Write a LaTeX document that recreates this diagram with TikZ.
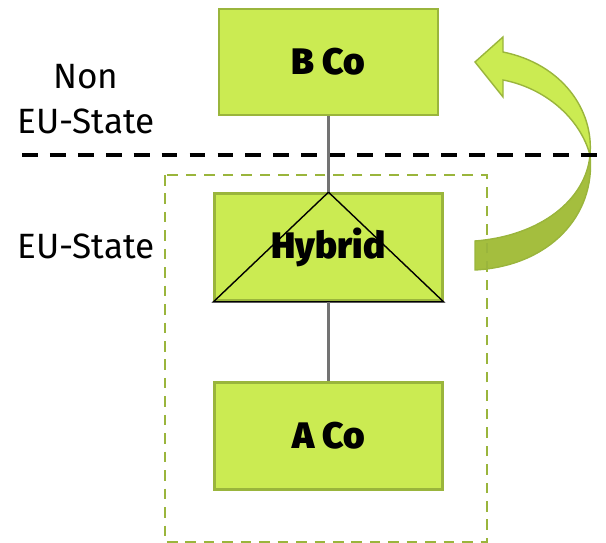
\documentclass[tikz,border=0pt]{standalone}
\usepackage{fontspec}
\setmainfont{Fira Sans}
\newfontfamily\heavyfont{Fira Sans Black}
\usetikzlibrary{positioning}
\definecolor{lime}{HTML}{CBEB52}
\definecolor{olive}{HTML}{9AB53C}
\definecolor{darklime}{HTML}{A4BE3E}
\tikzset{box/.style={rectangle,draw=olive,line width=1.5pt,fill=lime,minimum width=4.55cm,minimum height=2.14cm,font=\fontsize{21}{24}\selectfont\heavyfont}}
\tikzset{lbl/.style={font=\fontsize{20}{25.6}\selectfont,align=center,inner sep=0pt}}
\tikzset{link/.style={draw=black!55,line width=1.7pt}}

\begin{document}
\begin{tikzpicture}[x=0.02cm,y=-0.02cm]
\useasboundingbox (0,0) rectangle (606,543);
% curved arrow
\fill[draw=olive,fill=darklime,line width=0.8pt] (590,155) .. controls (596,215) and (550,266) .. (475,270) -- (475,241) .. controls (540,236) and (586,200) .. (590,155) -- cycle;
\fill[draw=olive,fill=lime,line width=0.8pt] (475,62) -- (503,37) -- (503,52) .. controls (562,64) and (594,110) .. (590,155) .. controls (580,118) and (545,88) .. (503,80) -- (503,97) -- cycle;
% regions
\draw[olive,line width=1.2pt,dash pattern=on 6pt off 4.5pt] (165,175) rectangle (487,542);
\draw[black,line width=2.5pt,dash pattern=on 9pt off 6.9pt] (22,155) -- (598,155);
\node[lbl] (non) at (86,99) {Non\\EU-State};
\node[lbl] (eu) at (86,246) {EU-State};
% companies
\node[box,minimum width=4.38cm,minimum height=2.12cm] (bco) at (328.5,62) {B Co};
\node[box] (hybrid) at (328.5,247) {};
\node[box] (aco) at (328.5,436) {A Co};
\draw[black,line width=0.8pt] (hybrid.south west) -- (hybrid.north) -- (hybrid.south east) -- cycle;
\node[font=\fontsize{21}{24}\selectfont\heavyfont] (hy) at (hybrid) {Hybrid};
\draw[link] (bco) -- (hybrid);
\draw[link] (hybrid) -- (aco);
\end{tikzpicture}
\end{document}
